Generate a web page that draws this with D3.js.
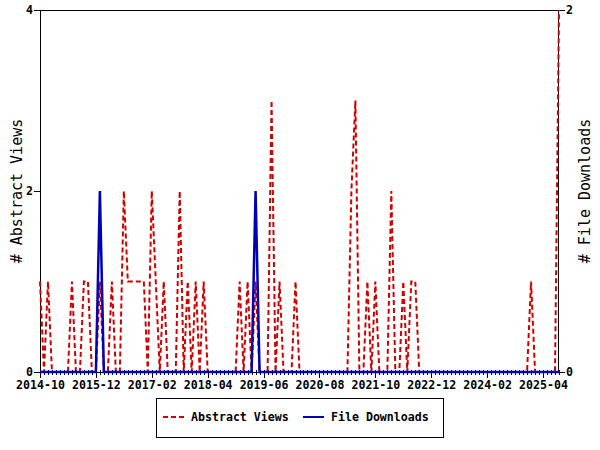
<!DOCTYPE html>
<html><head><meta charset="utf-8">
<script src="https://cdn.jsdelivr.net/npm/d3@7"></script>
<style>
body{margin:0;background:#fff}
svg text{font-family:"DejaVu Sans Mono","Liberation Mono",monospace}
</style>
</head><body>
<svg id="c" width="600" height="450"></svg>
<script>
// ---- data ----
const startMonth = "2014-10";
const endMonth = "2025-08";
const abstractViews = [
  1,0,1,0,0,0,0,0,1,0, 0,1,1,0,0,1,0,0,1,0,
  0,2,1,1,1,1,1,0,2,1, 0,1,0,0,0,2,0,1,0,1,
  0,1,0,0,0,0,0,0,0,0, 1,0,1,0,1,0,0,0,3,0,
  1,0,0,0,1,0,0,0,0,0, 0,0,0,0,0,0,0,0,2,3,
  0,0,1,0,1,0,0,0,2,0, 0,1,0,1,1,0,0,0,0,0,
  0,0,0,0,0,0,0,0,0,0, 0,0,0,0,0,0,0,0,0,0,
  0,0,0,1,0,0,0,0,0,0, 4
];
const fileDownloads = [
  0,0,0,0,0,0,0,0,0,0, 0,0,0,0,0,1,0,0,0,0,
  0,0,0,0,0,0,0,0,0,0, 0,0,0,0,0,0,0,0,0,0,
  0,0,0,0,0,0,0,0,0,0, 0,0,0,0,1,0,0,0,0,0,
  0,0,0,0,0,0,0,0,0,0, 0,0,0,0,0,0,0,0,0,0,
  0,0,0,0,0,0,0,0,0,0, 0,0,0,0,0,0,0,0,0,0,
  0,0,0,0,0,0,0,0,0,0, 0,0,0,0,0,0,0,0,0,0,
  0,0,0,0,0,0,0,0,0,0, 0
];
const xTickLabels = ["2014-10","2015-12","2017-02","2018-04","2019-06","2020-08","2021-10","2022-12","2024-02","2025-04"];
const leftTicks = [0,2,4];
const rightTicks = [0,2];
const seriesNames = ["Abstract Views","File Downloads"];
const axisTitles = ["# Abstract Views","# File Downloads"];

// ---- chart ----
const parse = d3.timeParse("%Y-%m"), fmt = d3.timeFormat("%Y-%m");
const months = d3.timeMonth.range(parse(startMonth), d3.timeMonth.offset(parse(endMonth),1)).map(fmt);

const L=40, R=559, T=10, B=372;
const RED="#d00000", BLUE="#0000b4";
const svg = d3.select("#c");
const x = d3.scalePoint().domain(months).range([L,R]).padding(0);
const yL = d3.scaleLinear().domain([0,4]).range([B,T]);
const yR = d3.scaleLinear().domain([0,2]).range([B,T]);

// frame
svg.append("rect").attr("x",L+0.5).attr("y",T+0.5).attr("width",R-L-1).attr("height",B-T)
  .attr("fill","none").attr("stroke","#000").attr("stroke-width",1);

function styleAxis(g){
  g.select(".domain").remove();
  g.selectAll("line").attr("stroke","#000").attr("shape-rendering","crispEdges");
  g.selectAll("text").attr("fill","#000").style("font-size","11.6px").style("font-weight","bold")
   .style("font-family",'"DejaVu Sans Mono","Liberation Mono",monospace');
}
// minor month ticks
svg.append("g").attr("transform",`translate(0,${B})`)
  .call(d3.axisBottom(x).tickValues(months).tickSize(3).tickFormat(""))
  .call(styleAxis);
svg.append("g").attr("transform",`translate(0,${B})`)
  .call(d3.axisTop(x).tickValues(months).tickSize(2).tickFormat(""))
  .call(styleAxis);
// major ticks
svg.append("g").attr("transform",`translate(0,${B})`)
  .call(d3.axisBottom(x).tickValues(xTickLabels).tickSize(6).tickPadding(3))
  .call(styleAxis);
svg.append("g").attr("transform",`translate(${L},0)`)
  .call(d3.axisLeft(yL).tickValues(leftTicks).tickSize(6).tickPadding(1).tickFormat(d3.format("d")))
  .call(styleAxis);
svg.append("g").attr("transform",`translate(${R},0)`)
  .call(d3.axisRight(yR).tickValues(rightTicks).tickSize(6).tickPadding(1).tickFormat(d3.format("d")))
  .call(styleAxis);

// lines
const lineL = d3.line().x((d,i)=>x(months[i])).y(d=>yL(d));
const lineR = d3.line().x((d,i)=>x(months[i])).y(d=>yR(d));
svg.append("path").datum(abstractViews).attr("d",lineL).attr("fill","none")
  .attr("stroke",RED).attr("stroke-width",2).attr("stroke-dasharray","5,3");
svg.append("path").datum(fileDownloads).attr("d",lineR).attr("fill","none")
  .attr("stroke",BLUE).attr("stroke-width",2.5);

// axis titles
svg.append("text").attr("transform",`translate(22,191) rotate(-90)`).attr("text-anchor","middle")
  .style("font-size","15px").attr("fill","#000").text(axisTitles[0]);
svg.append("text").attr("transform",`translate(590,191) rotate(-90)`).attr("text-anchor","middle")
  .style("font-size","15px").attr("fill","#000").text(axisTitles[1]);

// legend
const lg = svg.append("g");
lg.append("rect").attr("x",156.5).attr("y",398.5).attr("width",287).attr("height",39)
  .attr("fill","#fff").attr("stroke","#000").attr("stroke-width",1);
const items = [{name:seriesNames[0],color:RED,dash:"5,3",x0:163},{name:seriesNames[1],color:BLUE,dash:null,x0:303}];
items.forEach(it=>{
  lg.append("line").attr("x1",it.x0).attr("x2",it.x0+21).attr("y1",417).attr("y2",417)
    .attr("stroke",it.color).attr("stroke-width",2).attr("stroke-dasharray",it.dash);
  lg.append("text").attr("x",it.x0+28).attr("y",421).style("font-size","11.6px").style("font-weight","bold")
    .attr("fill","#000").text(it.name);
});
</script>
</body></html>
